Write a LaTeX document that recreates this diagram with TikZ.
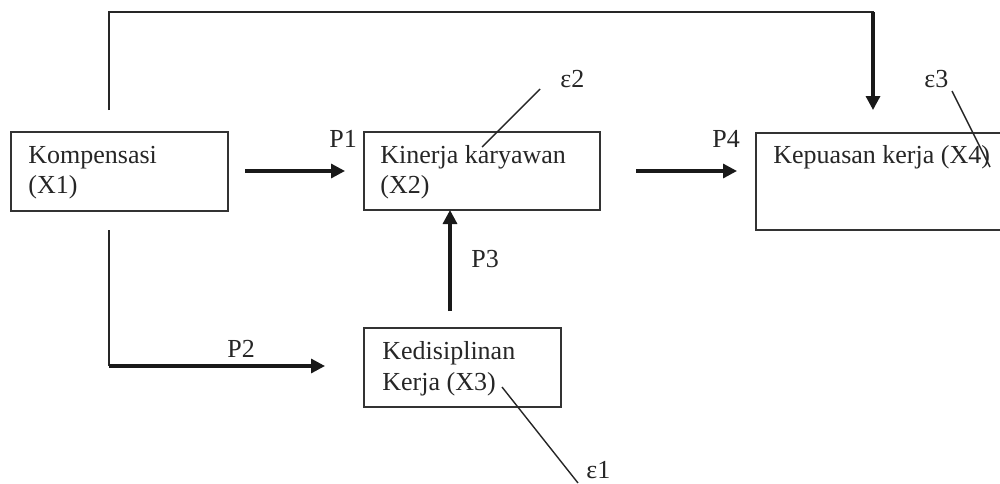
\documentclass[tikz,border=0pt]{standalone}
\usepackage{fontspec}
\setmainfont{Liberation Serif}
\usetikzlibrary{arrows.meta}
\begin{document}
\begin{tikzpicture}[x=0.5pt,y=-0.5pt,
  box/.style={draw=black!80,line width=0.8pt,inner sep=0pt,anchor=north west},
  txt/.style={inner sep=0pt,anchor=base west,font=\fontsize{13}{15}\selectfont,align=left,text=black!85},
  lbl/.style={inner sep=0pt,anchor=base west,font=\fontsize{13}{15}\selectfont,text=black!85},
  thin/.style={line width=0.75pt,draw=black!85},
  thick/.style={line width=1.6pt,draw=black!90,-{Triangle[length=7pt,width=7pt]}},
  errline/.style={line width=0.7pt,draw=black!85}]
\clip (0,0) rectangle (1000,483);
\fill[white] (0,0) rectangle (1000,483);
% boxes
\node[box,minimum width=108.5pt,minimum height=39.5pt] (x1) at (10,131) {};
\node[box,minimum width=118pt,minimum height=39pt] (x2) at (363,131) {};
\node[box,minimum width=140pt,minimum height=48.5pt] (x4) at (755,132) {};
\node[box,minimum width=98.5pt,minimum height=39.5pt] (x3) at (363,327) {};
% texts
\node[txt] (t1a) at (28,163) {Kompensasi};
\node[txt] (t1b) at (28,193) {(X1)};
\node[txt] (t2a) at (380,163) {Kinerja karyawan};
\node[txt] (t2b) at (380,193) {(X2)};
\node[txt] (t4) at (773,163) {Kepuasan kerja (X4)};
\node[txt] (t3a) at (382,359) {Kedisiplinan};
\node[txt] (t3b) at (382,390) {Kerja (X3)};
% labels
\node[lbl] (p1) at (329,147) {P1};
\node[lbl] (p4) at (712,147) {P4};
\node[lbl] (p2) at (227,357) {P2};
\node[lbl] (p3) at (471,267) {P3};
\node[lbl] (e2) at (560,87) {ε2};
\node[lbl] (e3) at (924,87) {ε3};
\node[lbl] (e1) at (586,478) {ε1};
% coordinates
\coordinate (a1s) at (245,171); \coordinate (a1e) at (345,171);
\coordinate (a4s) at (636,171); \coordinate (a4e) at (737,171);
\coordinate (ts) at (109,110); \coordinate (tl) at (109,12);
\coordinate (tr) at (873,12); \coordinate (trm) at (873,40); \coordinate (te) at (873,110);
\coordinate (bs) at (109,230); \coordinate (bl) at (109,366); \coordinate (be) at (325,366);
\coordinate (p3s) at (450,311); \coordinate (p3e) at (450,210);
\coordinate (e2a) at (540,89); \coordinate (e2b) at (482,147);
\coordinate (e3a) at (952,91); \coordinate (e3b) at (990,167);
\coordinate (e1a) at (502,387); \coordinate (e1b) at (578,483);
% connectors
\draw[thick] (a1s) -- (a1e);
\draw[thick] (a4s) -- (a4e);
\draw[thin] (ts) -- (tl) -- (tr) -- (trm);
\draw[thick] (tr) -- (te);
\draw[thin] (bs) -- (bl);
\draw[thick] (bl) -- (be);
\draw[thick] (p3s) -- (p3e);
\draw[errline] (e2a) -- (e2b);
\draw[errline] (e3a) -- (e3b);
\draw[errline] (e1a) -- (e1b);
\end{tikzpicture}
\end{document}
